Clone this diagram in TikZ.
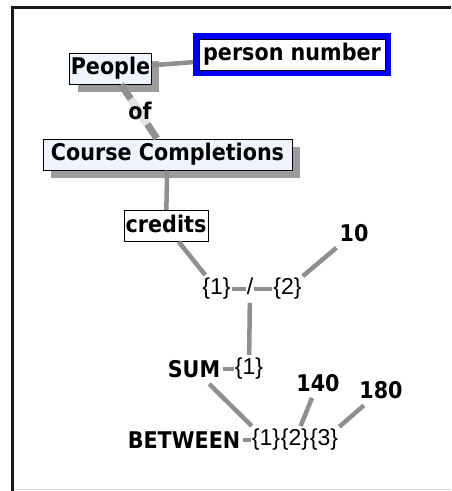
\documentclass[tikz,border=0pt]{standalone}
\usepackage{fontspec}
\setmainfont{DejaVu Sans}[FakeStretch=0.9]
\newfontfamily\argfont{Liberation Sans}
\usepackage{xcolor}
\usetikzlibrary{shadows, fit}
\definecolor{tablefill}{HTML}{EEF5FF}
\definecolor{linkgray}{HTML}{8F8F8F}
\definecolor{shadowgray}{HTML}{9C9C9C}
\definecolor{keyblue}{HTML}{0000F5}
\newcommand\lblfont{\fontsize{23}{27}\selectfont\bfseries}
\newcommand\argtext{\argfont\fontsize{23}{27}\selectfont}

\begin{document}
\begin{tikzpicture}[x=1pt, y=-1pt,
    tablebox/.style={draw=black, line width=1pt, fill=tablefill, font=\lblfont,
        minimum height=31pt, text height=17.5pt, text depth=5.4pt, inner xsep=1pt,
        drop shadow={shadow xshift=8pt, shadow yshift=-8pt, fill=shadowgray, opacity=1}},
    colbox/.style={draw=black, line width=1pt, fill=white, font=\lblfont,
        minimum height=31pt, text height=17.5pt, text depth=5.4pt, inner xsep=1pt},
    oplabel/.style={font=\lblfont, inner xsep=3pt, inner ysep=6pt},
    argbox/.style={font=\argtext, inner xsep=1pt, inner ysep=3pt,
        text height=16.7pt, text depth=4.8pt},
    link/.style={draw=linkgray, line width=4.5pt}]
        \useasboundingbox (0,0) rectangle (451,491);
        % window frame
        \draw[line width=3pt, black!90] (12.5,491) -- (12.5,7.5) -- (451,7.5);
        \draw[black!15, line width=1pt] (14,489.5) -- (451,489.5);

        % tables and columns
        \node[tablebox, minimum width=81pt] (people) at (110.5,68.5) {People};
        \node[colbox, minimum width=186pt] (pnum) at (292,54.5) {person number};
        \node[fit=(pnum), draw=keyblue, line width=5.5pt, inner sep=2.75pt] (pnumkey) {};
        \node[tablebox, minimum width=249pt] (courses) at (167.5,154.5) {Course Completions};
        \node[colbox, minimum width=84pt] (credits) at (166,226) {credits};

        % expression tree
        \node[argbox] (divA) at (216.5,289) {\{1\}};
        \node[argbox] (divOp) at (250,289) {/};
        \node[argbox] (divB) at (287.5,289) {\{2\}};
        \node[oplabel] (ten) at (354,233) {10};
        \node[oplabel] (sumOp) at (194,369) {SUM};
        \node[argbox] (sumA) at (249,369) {\{1\}};
        \node[oplabel] (lowVal) at (318,383) {140};
        \node[oplabel] (highVal) at (381,390.5) {180};
        \node[oplabel] (btwOp) at (184,440) {BETWEEN};
        \node[argbox] (btwA) at (266,440) {\{1\}};
        \node[argbox] (btwB) at (295,440) {\{2\}};
        \node[argbox] (btwC) at (324,440) {\{3\}};

        \draw[link] (people) -- (pnumkey);
        \draw[link, line width=7pt] (people) -- (courses);
        \path (people) -- node[sloped, fill=black!10, minimum width=30pt,
            minimum height=7pt, inner sep=0pt] (ofpatch) {} (courses);
        \node[oplabel, inner sep=0pt] (of) at (140,111) {of};
        \draw[link] (courses) -- (credits);
        \draw[link] (credits) -- (divA);
        \draw[link] (divA) -- (divOp);
        \draw[link] (divOp) -- (divB);
        \draw[link] (ten) -- (divB);
        \draw[link] (divOp) -- (sumA);
        \draw[link] (sumOp) -- (sumA);
        \draw[link] (sumOp) -- (btwA);
        \draw[link] (btwOp) -- (btwA);
        \draw[link] (lowVal) -- (btwB);
        \draw[link] (highVal) -- (btwC);
      \end{tikzpicture}
\end{document}
